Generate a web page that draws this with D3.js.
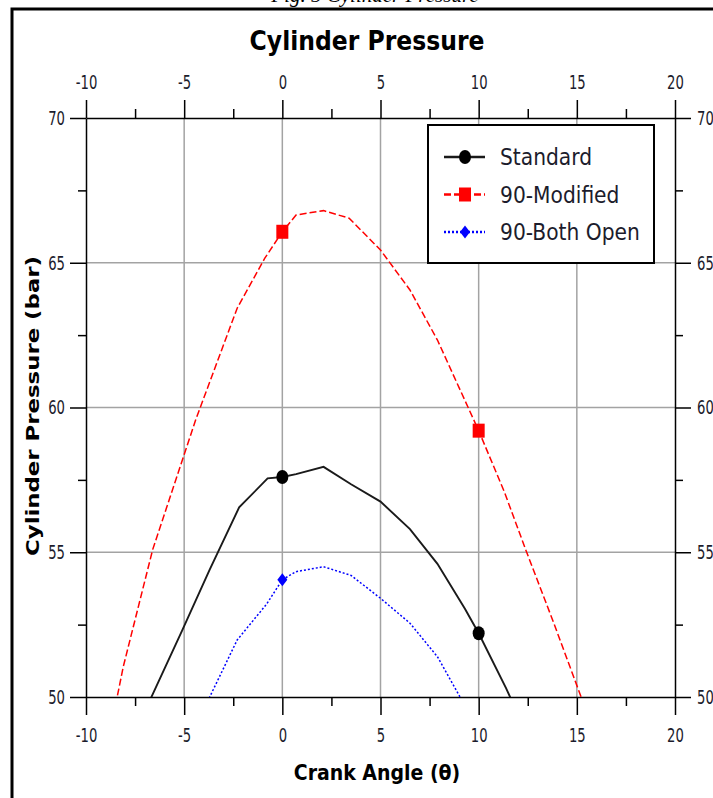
<!DOCTYPE html>
<html>
<head>
<meta charset="utf-8">
<script src="https://cdn.jsdelivr.net/npm/d3@7"></script>
<style>
  body { margin: 0; background: #fff; }
  svg { display: block; }
  .tick text { font-family: "DejaVu Sans", sans-serif; font-size: 20px; fill: #1c1c2c; }
</style>
</head>
<body>
<div id="chart"></div>
<script>
// crank angle (deg) / cylinder pressure (bar)
const standardX = [-8.1, -6.6, -5.1, -3.7, -2.2, -0.75, 0, 0.7, 2.1, 3.5, 5.0, 6.5, 7.9, 9.3, 10, 11.4, 12.8];
const standardY = [47.9, 50.1, 52.3, 54.4, 56.55, 57.55, 57.6, 57.7, 57.95, 57.35, 56.75, 55.8, 54.6, 53.05, 52.2, 50.3, 48.2];

const modifiedX = [-8.8, -8.1, -6.6, -4.4, -2.3, -0.9, 0, 0.7, 2.1, 3.4, 5.0, 6.5, 7.9, 10, 11.3, 12.4, 13.8, 15.6];
const modifiedY = [48.7, 51.05, 55.1, 59.6, 63.43, 65.15, 66.07, 66.65, 66.8, 66.54, 65.44, 64.06, 62.33, 59.2, 57.1, 55.08, 52.6, 49.3];

const bothOpenX = [-5.1, -3.7, -2.3, -0.8, 0, 0.7, 2.1, 3.5, 5.0, 6.5, 7.9, 9.3];
const bothOpenY = [47.8, 50.0, 51.97, 53.21, 54.05, 54.33, 54.5, 54.2, 53.41, 52.55, 51.39, 49.7];

const seriesNames = ["Standard", "90-Modified", "90-Both Open"];
const xMajor = [-10, -5, 0, 5, 10, 15, 20];
const xMinor = [-7.5, -2.5, 2.5, 7.5, 12.5, 17.5];
const yMajor = [50, 55, 60, 65, 70];
const yMinor = [52.5, 57.5, 62.5, 67.5];

const width = 713, height = 798;
const plotL = 86, plotR = 675, plotT = 118, plotB = 697;

const svg = d3.select("#chart").append("svg")
  .attr("width", width)
  .attr("height", height);

// squeeze text horizontally, the original uses a narrow face
function narrow(sel, f) {
  sel.each(function() {
    const w = this.getComputedTextLength();
    d3.select(this).attr("textLength", w * f).attr("lengthAdjust", "spacingAndGlyphs");
  });
}

// cut-off caption and outer frame
svg.append("text")
  .attr("x", 375).attr("y", 1.5)
  .attr("text-anchor", "middle")
  .style("font-family", "Liberation Serif, serif")
  .style("font-style", "italic")
  .style("font-size", "21px")
  .text("Fig. 5 Cylinder Pressure");

svg.append("rect")
  .attr("x", 12).attr("y", 9)
  .attr("width", 760).attr("height", 820)
  .attr("fill", "none")
  .attr("stroke", "#000")
  .attr("stroke-width", 3);

const x = d3.scaleLinear().domain([-10, 20]).range([plotL, plotR]);
const y = d3.scaleLinear().domain([50, 70]).range([plotB, plotT]);

// grid
svg.append("g").selectAll("line")
  .data(xMajor.slice(1, -1))
  .enter().append("line")
  .attr("x1", d => x(d)).attr("x2", d => x(d))
  .attr("y1", plotT).attr("y2", plotB)
  .attr("stroke", "#a3a3a3").attr("stroke-width", 1.5);

svg.append("g").selectAll("line")
  .data(yMajor.slice(1, -1))
  .enter().append("line")
  .attr("y1", d => y(d)).attr("y2", d => y(d))
  .attr("x1", plotL).attr("x2", plotR)
  .attr("stroke", "#a3a3a3").attr("stroke-width", 1.5);

// axes: minor ticks first, then major ticks with labels
function addAxis(axisFn, scale, transform, minor, major, bigSize, smallSize, pad) {
  svg.append("g")
    .attr("transform", transform)
    .call(axisFn(scale).tickValues(minor).tickSize(smallSize).tickSizeOuter(0).tickFormat(""))
    .call(g => g.select(".domain").remove())
    .selectAll("line").attr("stroke-width", 1.5);
  const g = svg.append("g")
    .attr("transform", transform)
    .call(axisFn(scale).tickValues(major).tickSize(bigSize).tickSizeOuter(0).tickPadding(pad).tickFormat(d => String(d)));
  g.select(".domain").attr("stroke-width", 1.5);
  g.selectAll("line").attr("stroke-width", 1.5);
  g.attr("font-family", null).attr("font-size", null);
  narrow(g.selectAll("text"), 0.66);
  return g;
}

addAxis(d3.axisBottom, x, `translate(0,${plotB})`, xMinor, xMajor, 18, 9, 13);
addAxis(d3.axisTop, x, `translate(0,${plotT})`, xMinor, xMajor, 18, 9, 11);
addAxis(d3.axisLeft, y, `translate(${plotL},0)`, yMinor, yMajor, 16, 8, 5);
addAxis(d3.axisRight, y, `translate(${plotR},0)`, yMinor, yMajor, 16, 8, 6);

// titles
svg.append("text")
  .attr("x", 367).attr("y", 50)
  .attr("text-anchor", "middle")
  .style("font-family", "DejaVu Sans, sans-serif")
  .style("font-weight", "bold")
  .style("font-size", "27px")
  .text("Cylinder Pressure")
  .call(narrow, 0.87);

svg.append("text")
  .attr("x", 377).attr("y", 780)
  .attr("text-anchor", "middle")
  .style("font-family", "DejaVu Sans, sans-serif")
  .style("font-weight", "bold")
  .style("font-size", "22px")
  .text("Crank Angle (θ)")
  .call(narrow, 0.86);

svg.append("text")
  .attr("transform", "translate(39,406) rotate(-90)")
  .attr("text-anchor", "middle")
  .style("font-family", "DejaVu Sans, Verdana, sans-serif")
  .style("font-weight", "bold")
  .style("font-size", "18px")
  .attr("textLength", 300)
  .attr("lengthAdjust", "spacingAndGlyphs")
  .text("Cylinder Pressure (bar)");

// lines
svg.append("clipPath").attr("id", "plot-clip")
  .append("rect")
  .attr("x", plotL).attr("y", plotT)
  .attr("width", plotR - plotL).attr("height", plotB - plotT);

const series = [
  { name: seriesNames[0], xs: standardX, ys: standardY, color: "#1a1a1a", dash: null, marker: "circle", width: 1.9 },
  { name: seriesNames[1], xs: modifiedX, ys: modifiedY, color: "#ff0000", dash: "7,3", marker: "square", width: 1.5 },
  { name: seriesNames[2], xs: bothOpenX, ys: bothOpenY, color: "#0000ff", dash: "2,2", marker: "diamond", width: 1.5 }
];

const line = d3.line().x(d => x(d[0])).y(d => y(d[1]));

const plot = svg.append("g").attr("clip-path", "url(#plot-clip)");

function drawMarker(g, type, cx, cy, color) {
  if (type === "circle") {
    g.append("ellipse").attr("cx", cx).attr("cy", cy).attr("rx", 6).attr("ry", 7).attr("fill", "#000");
  } else if (type === "square") {
    g.append("rect").attr("x", cx - 6).attr("y", cy - 7).attr("width", 12).attr("height", 14).attr("fill", color);
  } else {
    g.append("path")
      .attr("d", `M${cx},${cy - 6.5}L${cx + 5},${cy}L${cx},${cy + 6.5}L${cx - 5},${cy}Z`)
      .attr("fill", color);
  }
}

series.forEach(s => {
  const pts = s.xs.map((v, i) => [v, s.ys[i]]);
  plot.append("path")
    .attr("d", line(pts))
    .attr("fill", "none")
    .attr("stroke", s.color)
    .attr("stroke-width", s.width)
    .attr("stroke-dasharray", s.dash);
  // markers only on multiples of 10 degrees
  pts.filter(p => p[0] % 10 === 0).forEach(p => {
    drawMarker(plot, s.marker, x(p[0]), y(p[1]), s.color);
  });
});

// legend
const legend = svg.append("g");
legend.append("rect")
  .attr("x", 428).attr("y", 125)
  .attr("width", 226).attr("height", 138)
  .attr("fill", "#fff")
  .attr("stroke", "#000")
  .attr("stroke-width", 2);

series.forEach((s, i) => {
  const ly = 157 + i * 37.5;
  legend.append("line")
    .attr("x1", 444).attr("x2", 485)
    .attr("y1", ly).attr("y2", ly)
    .attr("stroke", s.color)
    .attr("stroke-width", 2.5)
    .attr("stroke-dasharray", s.dash);
  drawMarker(legend, s.marker, 465, ly, s.color);
  legend.append("text")
    .attr("x", 500).attr("y", ly + 8)
    .style("font-family", "DejaVu Sans, sans-serif")
    .style("font-size", "23px")
    .attr("fill", "#1c1c2c")
    .text(s.name)
    .call(narrow, 0.88);
});
</script>
</body>
</html>
